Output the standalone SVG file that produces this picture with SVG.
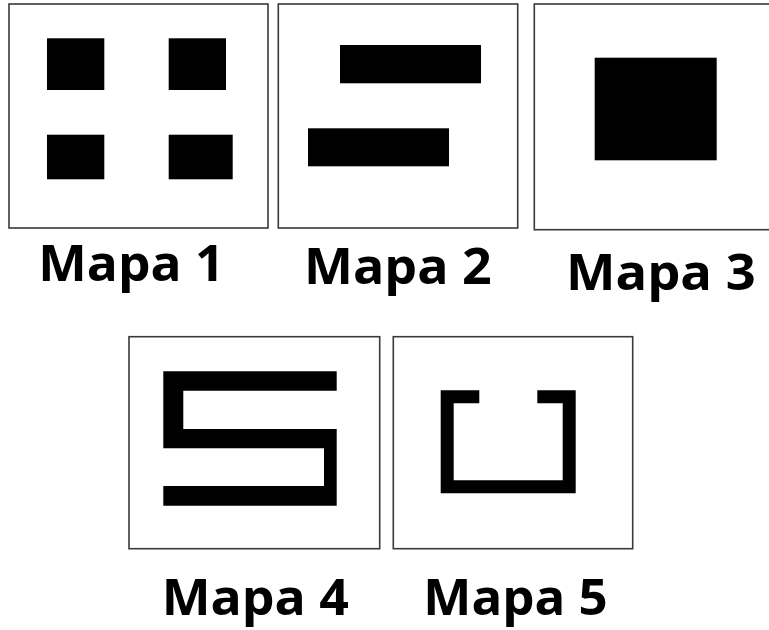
<svg xmlns="http://www.w3.org/2000/svg" width="769" height="630" viewBox="0 0 769 630">
<style>
.frame{fill:#fff;stroke:#3a3a3a;stroke-width:1.6}
.fill{fill:#000}
.lbl{font-family:"Open Sans","Noto Sans","Liberation Sans",sans-serif;font-weight:bold;font-size:50px;fill:#000}
</style>
<rect x="0" y="0" width="769" height="630" fill="#fff"/>
<g id="mapa1">
<rect class="frame" x="9" y="4" width="259" height="224"/>
<rect class="fill" x="47" y="38.3" width="57.3" height="51.7"/>
<rect class="fill" x="168.7" y="38.3" width="57.3" height="51.7"/>
<rect class="fill" x="47" y="134.7" width="57.3" height="44.6"/>
<rect class="fill" x="168.7" y="134.7" width="64" height="44.6"/>
<text class="lbl" x="38.3" y="280.7" textLength="186" lengthAdjust="spacingAndGlyphs">Mapa 1</text>
</g>
<g id="mapa2">
<rect class="frame" x="278.3" y="4" width="239.4" height="224"/>
<rect class="fill" x="340" y="45" width="141" height="38.3"/>
<rect class="fill" x="308" y="128.3" width="141" height="38"/>
<text class="lbl" x="304" y="284.3" textLength="187.7" lengthAdjust="spacingAndGlyphs">Mapa 2</text>
</g>
<g id="mapa3">
<rect class="frame" x="534.3" y="4" width="240" height="225.7"/>
<rect class="fill" x="594.7" y="57.7" width="122" height="102.6"/>
<text class="lbl" x="566" y="290" textLength="189.7" lengthAdjust="spacingAndGlyphs">Mapa 3</text>
</g>
<g id="mapa4">
<rect class="frame" x="129" y="336.7" width="250.7" height="212"/>
<path class="fill" d="M163.3,371.3 H336.7 V390.7 H183.3 V429 H336.7 V505.7 H163.3 V486 H324 V448.3 H163.3 Z"/>
<text class="lbl" x="161.7" y="615" textLength="187.3" lengthAdjust="spacingAndGlyphs">Mapa 4</text>
</g>
<g id="mapa5">
<rect class="frame" x="393.3" y="336.7" width="239.4" height="212"/>
<path class="fill" d="M440.7,390.3 H479.3 V403.3 H453.7 V480.3 H562.7 V403.3 H537.3 V390.3 H575.7 V493.3 H440.7 Z"/>
<text class="lbl" x="423.3" y="615" textLength="184.4" lengthAdjust="spacingAndGlyphs">Mapa 5</text>
</g>
<g id="connectors"></g>
</svg>
